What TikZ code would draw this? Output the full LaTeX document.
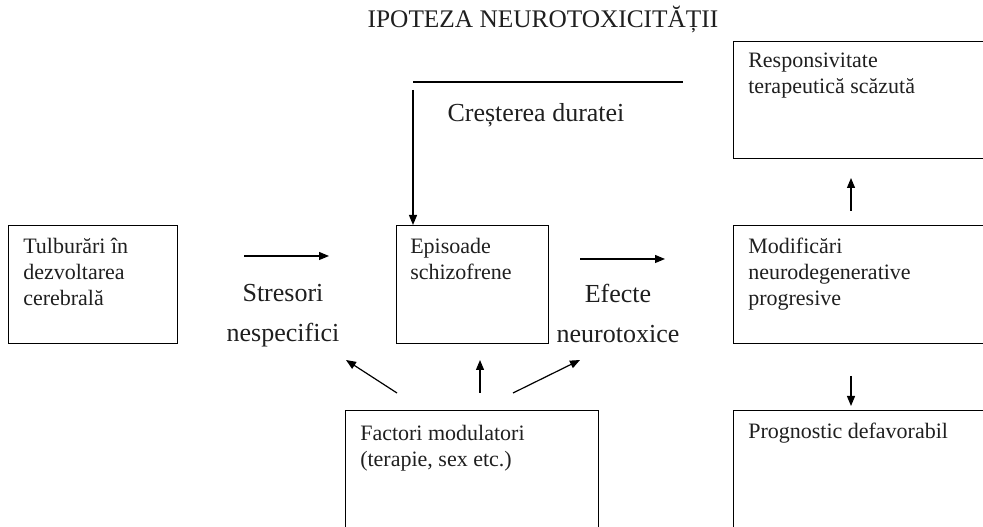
\documentclass[tikz,border=0pt]{standalone}
\usepackage{fontspec}
\setmainfont{Liberation Serif}
\usetikzlibrary{arrows.meta}

\tikzset{
  box/.style={draw=black, line width=1pt, anchor=north west, inner sep=0pt},
  boxtext/.style={anchor=north west, inner sep=0pt, align=left, text=black!88,
    font=\fontsize{16.5}{19.5}\selectfont},
  lbl/.style={inner sep=0pt, text=black!88, font=\fontsize{19.5}{30}\selectfont},
  arr/.style={line width=0.9pt, -{Triangle[length=7.5pt,width=6pt]}},
  plain/.style={line width=0.9pt}
}

\begin{document}
\begin{tikzpicture}[x=0.75pt, y=-0.75pt]
  \clip (0,0) rectangle (983,527);

  % title
  \node[lbl, anchor=base, font=\fontsize{19}{23}\selectfont] (title) at (543,28) {IPOTEZA NEUROTOXICITĂȚII};

  % boxes
  \node[box, minimum width=169*0.75pt, minimum height=118*0.75pt] (tulb) at (8,225) {};
  \node[box, minimum width=152*0.75pt, minimum height=118*0.75pt] (epis) at (396,225) {};
  \node[box, minimum width=300*0.75pt, minimum height=118*0.75pt] (modif) at (733,225) {};
  \node[box, minimum width=300*0.75pt, minimum height=117*0.75pt] (resp) at (733,41) {};
  \node[box, minimum width=300*0.75pt, minimum height=160*0.75pt] (progn) at (733,410) {};
  \node[box, minimum width=253*0.75pt, minimum height=160*0.75pt] (fact) at (345,410) {};

  % box texts
  \node[boxtext] (tulbT) at ([shift={(15,13)}]tulb.north west) {Tulburări în\\dezvoltarea\\cerebrală};
  \node[boxtext] (episT) at ([shift={(14,13)}]epis.north west) {Episoade\\schizofrene};
  \node[boxtext] (modifT) at ([shift={(15,13)}]modif.north west) {Modificări\\neurodegenerative\\progresive};
  \node[boxtext] (respT) at ([shift={(15,12)}]resp.north west) {Responsivitate\\terapeutică scăzută};
  \node[boxtext] (prognT) at ([shift={(15,13)}]progn.north west) {Prognostic defavorabil};
  \node[boxtext] (factT) at ([shift={(15,15)}]fact.north west) {Factori modulatori\\(terapie, sex etc.)};

  % arrow labels
  \node[lbl, anchor=base] (cresT) at (536,122) {Creșterea duratei};
  \node[lbl, anchor=north, align=center] (stresT) at (283,284) {Stresori\\nespecifici};
  \node[lbl, anchor=north, align=center] (efectT) at (618,284) {Efecte\\neurotoxice};

  % connector end points
  \coordinate (topL) at (413,82);
  \coordinate (topR) at (683,82);
  \coordinate (durS) at (413,90);
  \coordinate (stS) at (244,256);
  \coordinate (stE) at (329,256);
  \coordinate (efS) at (580,259);
  \coordinate (efE) at (665,259);
  \coordinate (upS) at (851,211);
  \coordinate (dnS) at (851,376);
  \coordinate (dnE) at (851,406);
  \coordinate (fL) at (397,393);
  \coordinate (fLE) at (346,360);
  \coordinate (fM) at (480,393);
  \coordinate (fME) at (480,360);
  \coordinate (fR) at (513,393);
  \coordinate (fRE) at (580,360);

  % connectors
  \draw[plain] (topL) -- (topR);
  \draw[arr] (durS) -- (durS |- epis.north);
  \draw[arr] (stS) -- (stE);
  \draw[arr] (efS) -- (efE);
  \draw[arr] (upS) -- (upS |- 0,178);
  \draw[arr] (dnS) -- (dnE);
  \draw[arr] (fL) -- (fLE);
  \draw[arr] (fM) -- (fME);
  \draw[arr] (fR) -- (fRE);
\end{tikzpicture}
\end{document}
